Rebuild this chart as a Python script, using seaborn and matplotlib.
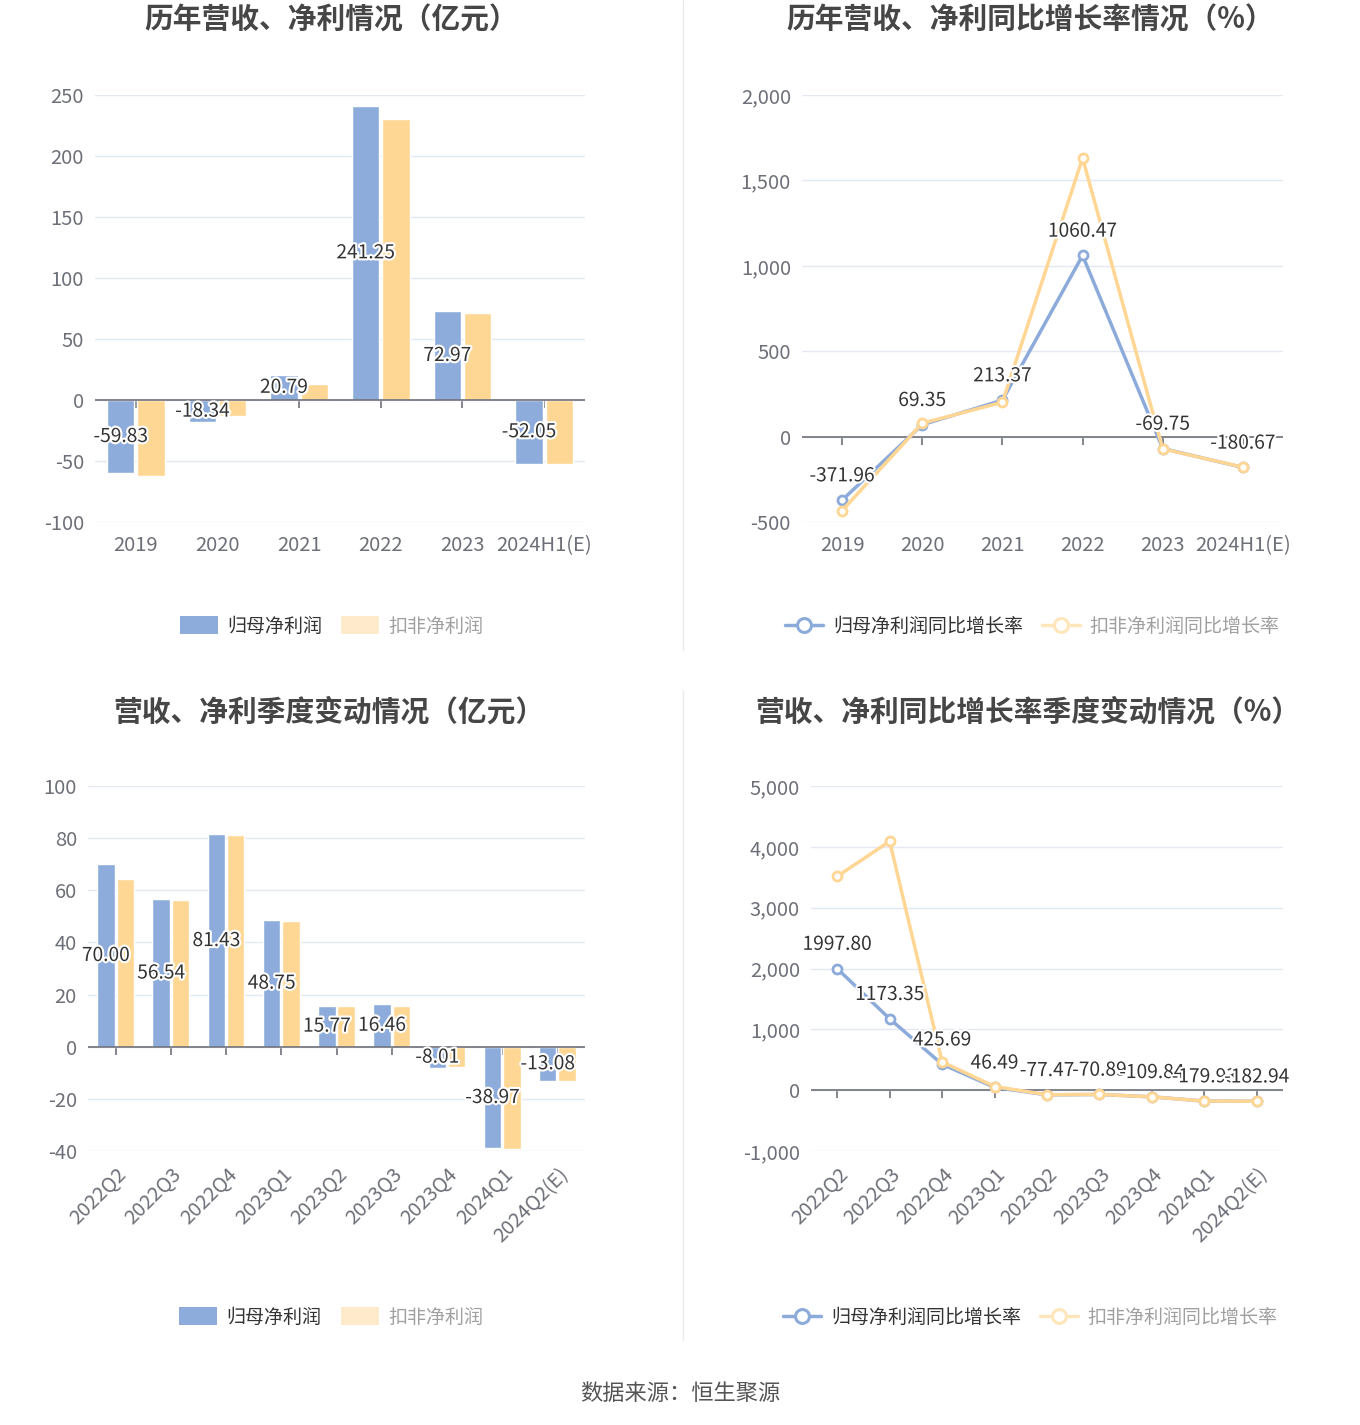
import matplotlib
matplotlib.use("Agg")
import matplotlib.pyplot as plt
import seaborn as sns
import pandas as pd
from matplotlib import patheffects as pe
from matplotlib.lines import Line2D
from matplotlib.patches import Patch
from matplotlib.ticker import FuncFormatter

# ---------------- data ----------------
years = ["2019", "2020", "2021", "2022", "2023", "2024H1(E)"]
annual_np = [-59.83, -18.34, 20.79, 241.25, 72.97, -52.05]
annual_dnp = [-62.0, -13.4, 13.1, 230.3, 71.3, -52.5]
annual_np_yoy = [-371.96, 69.35, 213.37, 1060.47, -69.75, -180.67]
annual_dnp_yoy = [-433.0, 78.0, 201.0, 1630.0, -72.0, -179.0]

quarters = ["2022Q2", "2022Q3", "2022Q4", "2023Q1", "2023Q2", "2023Q3",
            "2023Q4", "2024Q1", "2024Q2(E)"]
q_np = [70.00, 56.54, 81.43, 48.75, 15.77, 16.46, -8.01, -38.97, -13.08]
q_dnp = [64.4, 56.2, 81.2, 48.3, 15.7, 15.7, -7.9, -39.1, -13.0]
q_np_yoy = [1997.80, 1173.35, 425.69, 46.49, -77.47, -70.89, -109.84, -179.93, -182.94]
q_dnp_yoy = [3515.0, 4090.0, 465.0, 60.0, -75.0, -70.0, -110.0, -180.0, -183.0]

s_np = "归母净利润"
s_dnp = "扣非净利润"
s_np_yoy = "归母净利润同比增长率"
s_dnp_yoy = "扣非净利润同比增长率"

titles = ["历年营收、净利情况（亿元）", "历年营收、净利同比增长率情况（%）",
          "营收、净利季度变动情况（亿元）", "营收、净利同比增长率季度变动情况（%）"]
source = "数据来源：恒生聚源"

# ---------------- style ----------------
sns.set_theme(style="white")
plt.rcParams["font.family"] = ["Noto Sans CJK SC", "DejaVu Sans"]
plt.rcParams["axes.unicode_minus"] = False

BLUE = "#8DACDB"
ORANGE = "#FFD794"
LBLUE = "#8CABDA"
LORANGE = "#FFD693"
GRID = "#E3E8F4"
AXIS = "#6E7079"
TICK = "#6E7079"
TICKSIZE = 14.5
LABSIZE = 13.8
LEGSIZE = 13.7
stroke = [pe.withStroke(linewidth=3, foreground="white")]

W, H = 1360, 1425
fig = plt.figure(figsize=(W / 100, H / 100), dpi=100)
fig.patch.set_facecolor("white")


def px_axes(left, top, right, bottom):
    return fig.add_axes([left / W, 1 - bottom / H, (right - left) / W, (bottom - top) / H])


def common(ax, cats, ylim, step, comma=False, rot=False):
    ncat = len(cats)
    ax.set_ylim(*ylim)
    ax.set_yticks(list(range(ylim[0], ylim[1] + 1, step)))
    if comma:
        ax.yaxis.set_major_formatter(FuncFormatter(lambda v, p: f"{int(v):,}"))
    ax.set_xlim(-0.5, ncat - 0.5)
    ax.grid(axis="y", color=GRID, linewidth=1)
    ax.grid(axis="x", visible=False)
    ax.set_axisbelow(True)
    for s in ax.spines.values():
        s.set_visible(False)
    ax.tick_params(axis="y", length=0, pad=8, labelsize=TICKSIZE, labelcolor=TICK)
    ax.tick_params(axis="x", length=0, pad=9.5 if not rot else 9,
                   labelsize=TICKSIZE, labelcolor=TICK)
    ax.set_xlabel("")
    ax.set_ylabel("")
    ax.set_xticks(list(range(ncat)))
    ax.set_xticklabels(cats)
    if rot:
        for lab in ax.get_xticklabels():
            lab.set_rotation(45)
            lab.set_ha("right")
            lab.set_rotation_mode("anchor")
    ax.axhline(0, color=AXIS, linewidth=1.2, zorder=3)
    zf = (0 - ylim[0]) / (ylim[1] - ylim[0])
    sec = ax.secondary_xaxis(zf)
    sec.set_xticks(list(range(ncat)))
    sec.set_xticklabels([])
    sec.tick_params(axis="x", length=6, width=1.2, color=AXIS, direction="out")
    for s in sec.spines.values():
        s.set_visible(False)


def bar_chart(ax, cats, a, b, ylim, step, width, rot):
    df = pd.DataFrame({"cat": cats * 2, "val": a + b,
                       "series": [s_np] * len(cats) + [s_dnp] * len(cats)})
    sns.barplot(data=df, x="cat", y="val", hue="series", order=cats,
                hue_order=[s_np, s_dnp], palette=[BLUE, ORANGE], width=width,
                gap=0.1, ax=ax, legend=False, saturation=1, errorbar=None)
    common(ax, cats, ylim, step, rot=rot)
    texts = ax.bar_label(ax.containers[0], labels=[f"{v:.2f}" for v in a],
                         label_type="center", fontsize=LABSIZE, color="#333333")
    for t in texts:
        t.set_path_effects(stroke)
        t.set_zorder(6)


def line_chart(ax, cats, a, b, ylim, step, rot):
    for vals, col in ((a, LBLUE), (b, LORANGE)):
        df = pd.DataFrame({"cat": cats, "val": vals})
        sns.lineplot(data=df, x="cat", y="val", sort=False, color=col, linewidth=2.5,
                     marker="o", markersize=6.5, markerfacecolor="white",
                     markeredgecolor=col, markeredgewidth=2, ax=ax, zorder=4)
    common(ax, cats, ylim, step, comma=True, rot=rot)
    for i, v in enumerate(a):
        ax.annotate(f"{v:.2f}", (i, v), xytext=(0, 17.5), textcoords="offset points",
                    ha="center", va="center", fontsize=LABSIZE, color="#333333",
                    path_effects=stroke, zorder=6)


def bar_legend(ax, x, y):
    handles = [Patch(facecolor=BLUE, edgecolor="none"),
               Patch(facecolor="#FFEACB", edgecolor="none")]
    leg = ax.legend(handles, [s_np, s_dnp], loc="center", bbox_to_anchor=(x, y),
                    ncol=2, frameon=False, fontsize=LEGSIZE, handlelength=2.0,
                    handleheight=1.05, handletextpad=0.5, columnspacing=1.0)
    leg.get_texts()[0].set_color("#333333")
    leg.get_texts()[1].set_color("#A0A0A0")


def line_legend(ax, x, y):
    handles = [Line2D([], [], color=LBLUE, lw=2.5, marker="o", markersize=10,
                      markerfacecolor="white", markeredgewidth=2.2),
               Line2D([], [], color="#FFE6BA", lw=2.5, marker="o", markersize=10,
                      markerfacecolor="white", markeredgewidth=2.2)]
    leg = ax.legend(handles, [s_np_yoy, s_dnp_yoy], loc="center", bbox_to_anchor=(x, y),
                    ncol=2, frameon=False, fontsize=LEGSIZE, handlelength=2.0,
                    handletextpad=0.5, columnspacing=1.0)
    leg.get_texts()[0].set_color("#333333")
    leg.get_texts()[1].set_color("#A0A0A0")


ax1 = px_axes(95, 95, 585, 522)
bar_chart(ax1, years, annual_np, annual_dnp, (-100, 250), 50, 0.74, False)
bar_legend(ax1, 0.483, -0.244)

ax2 = px_axes(802, 95, 1283, 522)
line_chart(ax2, years, annual_np_yoy, annual_dnp_yoy, (-500, 2000), 500, False)
line_legend(ax2, 0.479, -0.244)

ax3 = px_axes(88, 786, 585, 1151)
bar_chart(ax3, quarters, q_np, q_dnp, (-40, 100), 20, 0.7, True)
bar_legend(ax3, 0.489, -0.455)

ax4 = px_axes(811, 786, 1283, 1151)
line_chart(ax4, quarters, q_np_yoy, q_dnp_yoy, (-1000, 5000), 1000, True)
line_legend(ax4, 0.465, -0.455)

# titles
for (cx, cy), t in zip([(331, 20), (1030, 20), (329, 712), (1028, 712)], titles):
    fig.text(cx / W, 1 - cy / H, t, ha="center", va="center", fontsize=20.7,
             fontweight="bold", color="#464646")

# separators
fig.add_artist(Line2D([683 / W, 683 / W], [1 - 0 / H, 1 - 650 / H], color="#EBEBEB", lw=1))
fig.add_artist(Line2D([683 / W, 683 / W], [1 - 690 / H, 1 - 1340 / H], color="#EBEBEB", lw=1))

fig.text(680 / W, 1 - 1394 / H, source, ha="center", va="center", fontsize=16, color="#555555")

fig.savefig("out.png", dpi=100, facecolor="white")
